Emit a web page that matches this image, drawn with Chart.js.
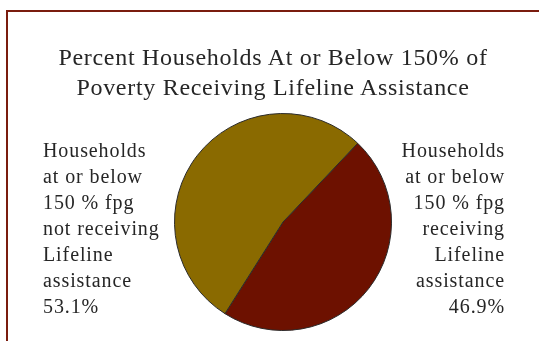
<!DOCTYPE html>
<html>
<head>
<meta charset="utf-8">
<script src="https://cdn.jsdelivr.net/npm/chart.js@4/dist/chart.umd.min.js"></script>
<style>
    html, body { margin: 0; padding: 0; background: #fff; }
    #wrap { position: relative; width: 539px; height: 341px; overflow: hidden; font-family: "Liberation Serif", serif; color: #262626; }
    #wrap canvas { position: absolute; left: 0; top: 0; }
    .frameTop { position: absolute; left: 6px; top: 10px; width: 533px; height: 2px; background: #7a1c0e; }
    .frameLeft { position: absolute; left: 6px; top: 10px; width: 2px; height: 331px; background: #7a1c0e; }
    #title { position: absolute; left: 0; width: 546px; top: 42px; text-align: center; font-size: 24px; line-height: 30px; letter-spacing: 0.7px; }
    .side { position: absolute; top: 137px; font-size: 20px; line-height: 26px; letter-spacing: 0.9px; }
    #leftLabel { left: 43px; text-align: left; }
    #rightLabel { right: 34px; text-align: right; }
</style>
</head>
<body>
<div id="wrap">
    <canvas id="pieChart" width="539" height="341"></canvas>
    <div class="frameTop"></div>
    <div class="frameLeft"></div>
    <div id="title"></div>
    <div class="side" id="rightLabel"></div>
    <div class="side" id="leftLabel"></div>
</div>
<script>
const chartTitle = ['Percent Households At or Below 150% of', 'Poverty Receiving Lifeline Assistance'];
const categories = ['Households at or below 150 % fpg receiving Lifeline assistance',
    'Households at or below 150 % fpg not receiving Lifeline assistance'];
const categoryLines = [
    ['Households', 'at or below', '150 % fpg', 'receiving', 'Lifeline', 'assistance'],
    ['Households', 'at or below', '150 % fpg', 'not receiving', 'Lifeline', 'assistance']
];
const percents = [46.9, 53.1];
const sliceColors = ['#6d1100', '#8a6a00'];

document.getElementById('title').innerHTML = chartTitle.join('<br>');

function labelHtml(i) {
    return categoryLines[i].concat([percents[i].toFixed(1) + '%']).join('<br>');
}
document.getElementById('rightLabel').innerHTML = labelHtml(0);
document.getElementById('leftLabel').innerHTML = labelHtml(1);

const ctx = document.getElementById('pieChart');
new Chart(ctx, {
    type: 'pie',
    data: {
        labels: categories,
        datasets: [{
            data: percents,
            backgroundColor: sliceColors,
            borderColor: '#2b2b2b',
            borderWidth: 1
        }]
    },
    options: {
        responsive: false,
        animation: false,
        rotation: 43.5,
        layout: {
            padding: { left: 174, right: 147, top: 113, bottom: 10 }
        },
        plugins: {
            legend: { display: false },
            tooltip: { enabled: false },
            title: { display: false }
        }
    }
});
</script>
</body>
</html>
